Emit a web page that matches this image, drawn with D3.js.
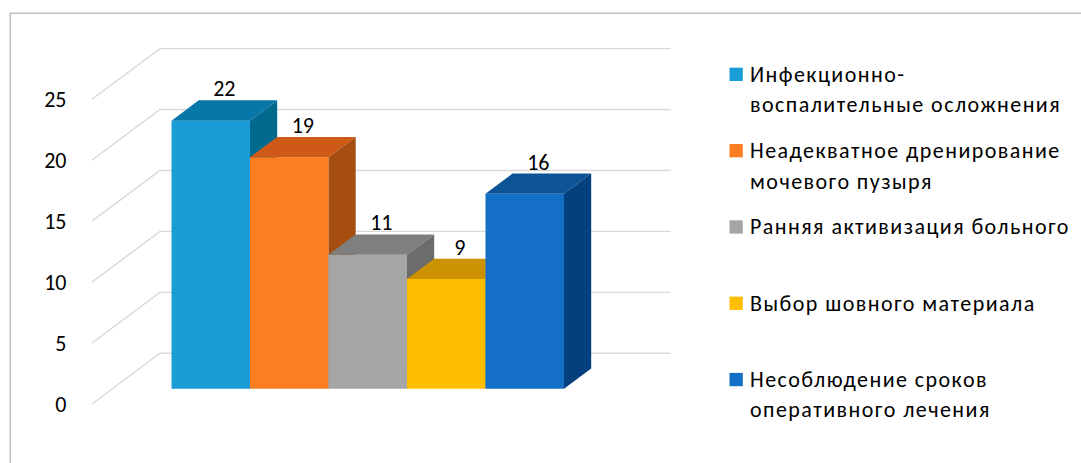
<!DOCTYPE html>
<html>
<head>
<meta charset="utf-8">
<script src="https://cdn.jsdelivr.net/npm/d3@7"></script>
<style>
  html, body { margin: 0; padding: 0; background: #fff; }
  svg { display: block; }
  text { font-family: Carlito, Calibri, Lato, "Open Sans", sans-serif; fill: #000; }
</style>
</head>
<body>
<svg id="chart" width="1081" height="463"></svg>
<script>
// Series (one category, five series) and their values
const seriesNames = [
  "Инфекционно-воспалительные осложнения",
  "Неадекватное дренирование мочевого пузыря",
  "Ранняя активизация больного",
  "Выбор шовного материала",
  "Несоблюдение сроков оперативного лечения"
];
const legendLines = [
  ["Инфекционно-", "воспалительные осложнения"],
  ["Неадекватное дренирование", "мочевого пузыря"],
  ["Ранняя активизация больного"],
  ["Выбор шовного материала"],
  ["Несоблюдение сроков", "оперативного лечения"]
];
const values = [22, 19, 11, 9, 16];
const yTicks = [0, 5, 10, 15, 20, 25];

// face colours: front, top, side
const frontColors = ["#1a9dd6", "#fd7e20", "#a5a5a5", "#ffbf00", "#146fc6"];
const topColors   = ["#0677a6", "#cf5a17", "#7f7f7f", "#cc9200", "#0c5496"];
const sideColors  = ["#036a8f", "#a64e12", "#6c6c6c", "#a87800", "#043f7e"];

const svg = d3.select("#chart");

// 3D box geometry: floor front edge at depth 0, back wall at depth 1
const DX = 68, DY = 50.7;
const floorLeft = 92, floorRight = 602.7;
const barZ0 = 0.3, barZ1 = 0.7;

const y = d3.scaleLinear().domain([0, 25]).range([404, 99.3]);
const x = d3.scaleBand().domain(seriesNames).range([floorLeft, floorRight])
  .paddingInner(0).paddingOuter(0.753);

const px = (sx, z) => sx + z * DX;
const py = (v, z) => y(v) - z * DY;

// chart area border
svg.append("rect")
  .attr("x", 10.25).attr("y", 13.25)
  .attr("width", 1100).attr("height", 500)
  .attr("fill", "none").attr("stroke", "#bfbfbf").attr("stroke-width", 1.5);

// gridlines: side wall diagonal + back wall horizontal
const grid = svg.append("g").attr("fill", "none").attr("stroke", "#d9d9d9").attr("stroke-width", 1.4);
yTicks.forEach(t => {
  grid.append("path").attr("d",
    `M${floorLeft},${py(t, 0)}L${px(floorLeft, 1)},${py(t, 1)}L${px(floorRight, 1)},${py(t, 1)}`);
});

// y tick labels
svg.append("g").selectAll("text").data(yTicks).join("text")
  .attr("x", 66.5).attr("y", d => y(d) + 7.8)
  .attr("text-anchor", "end").attr("font-size", 22)
  .text(d => d);

// bars as 3D boxes, drawn left to right
const bars = svg.append("g");
seriesNames.forEach((name, i) => {
  const v = values[i];
  const x0 = x(name), x1 = x(name) + x.bandwidth();
  const g = bars.append("g");
  const poly = pts => "M" + pts.map(p => p.join(",")).join("L") + "Z";
  // front
  g.append("path").attr("fill", frontColors[i]).attr("d", poly([
    [px(x0, barZ0), py(0, barZ0)], [px(x1, barZ0), py(0, barZ0)],
    [px(x1, barZ0), py(v, barZ0)], [px(x0, barZ0), py(v, barZ0)]
  ]));
  // top
  g.append("path").attr("fill", topColors[i]).attr("d", poly([
    [px(x0, barZ0), py(v, barZ0)], [px(x1, barZ0), py(v, barZ0)],
    [px(x1, barZ1), py(v, barZ1)], [px(x0, barZ1), py(v, barZ1)]
  ]));
  // right side
  g.append("path").attr("fill", sideColors[i]).attr("d", poly([
    [px(x1, barZ0), py(0, barZ0)], [px(x1, barZ1), py(0, barZ1)],
    [px(x1, barZ1), py(v, barZ1)], [px(x1, barZ0), py(v, barZ0)]
  ]));
});

// value labels above each box
svg.append("g").selectAll("text").data(seriesNames).join("text")
  .attr("x", (d, i) => px(x(d) + x.bandwidth() / 2, 0.5))
  .attr("y", (d, i) => py(values[i], barZ1) - 4)
  .attr("text-anchor", "middle").attr("font-size", 22)
  .text((d, i) => values[i]);

// legend
const legend = svg.append("g");
legendLines.forEach((lines, i) => {
  const base = 81.7 + i * 76.3;
  legend.append("rect")
    .attr("x", 729.5).attr("y", base - 14)
    .attr("width", 13.3).attr("height", 13.3)
    .attr("fill", frontColors[i]);
  lines.forEach((line, j) => {
    legend.append("text")
      .attr("x", 750).attr("y", base + j * 30.5)
      .attr("font-size", 22)
      .attr("letter-spacing", 1.45)
      .text(line);
  });
});
</script>
</body>
</html>
